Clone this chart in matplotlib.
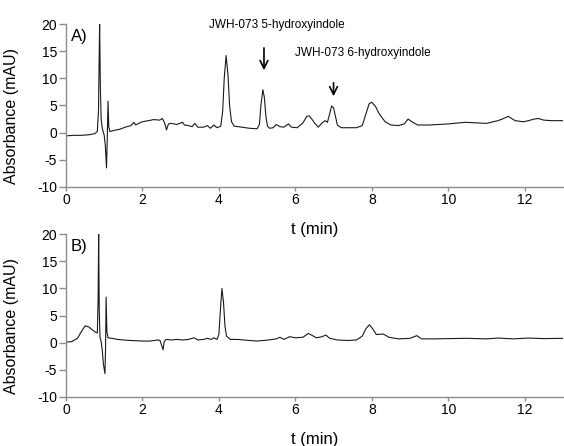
import matplotlib
matplotlib.use("Agg")
import matplotlib.pyplot as plt

plt.rcParams["font.family"] = ["Liberation Sans", "DejaVu Sans"]
plt.rcParams["axes.unicode_minus"] = False

# chromatogram A (t in min, absorbance in mAU)
time_a = [0.0, 0.2, 0.4, 0.6, 0.75, 0.82, 0.85, 0.87, 0.88, 0.9, 0.92, 0.95,
          0.98, 1.0, 1.03, 1.06, 1.08, 1.1, 1.12, 1.15, 1.25, 1.4, 1.55, 1.7,
          1.78, 1.82, 1.9, 2.0, 2.15, 2.3, 2.45, 2.52, 2.58, 2.63, 2.68, 2.75,
          2.9, 3.05, 3.1, 3.2, 3.3, 3.37, 3.45, 3.6, 3.7, 3.78, 3.87, 3.95,
          4.05, 4.1, 4.14, 4.19, 4.24, 4.28, 4.33, 4.4, 4.6, 4.8, 5.0, 5.06,
          5.1, 5.15, 5.19, 5.23, 5.27, 5.33, 5.42, 5.5, 5.6, 5.7, 5.82, 5.9,
          6.05, 6.2, 6.3, 6.36, 6.42, 6.5, 6.6, 6.7, 6.78, 6.84, 6.9, 6.95,
          7.0, 7.05, 7.1, 7.2, 7.4, 7.6, 7.75, 7.85, 7.93, 8.0, 8.1, 8.2,
          8.35, 8.5, 8.7, 8.85, 8.95, 9.05, 9.2, 9.5, 10.0, 10.45, 11.0, 11.3,
          11.45, 11.57, 11.75, 11.97, 12.1, 12.25, 12.36, 12.5, 12.7, 13.0]
abs_a = [-0.6, -0.5, -0.5, -0.4, -0.2, 0.2, 4.0, 15.0, 20.0, 8.0, 2.5, 0.8,
         0.0, -0.5, -2.5, -6.5, -1.0, 5.8, 1.0, 0.2, 0.4, 0.6, 1.0, 1.3,
         1.9, 1.4, 1.7, 2.0, 2.2, 2.4, 2.3, 2.6, 1.8, 0.5, 1.6, 1.7,
         1.5, 1.9, 1.4, 1.3, 1.1, 1.7, 1.0, 1.0, 1.3, 0.8, 1.4, 0.9,
         1.2, 4.0, 10.0, 14.2, 10.5, 5.0, 2.0, 1.2, 1.0, 0.8, 0.7, 1.5,
         5.0, 7.9, 6.5, 3.0, 1.2, 0.8, 0.9, 1.5, 1.1, 1.0, 1.6, 1.0,
         0.9, 1.8, 3.0, 3.1, 2.6, 1.8, 1.0, 1.8, 2.2, 1.9, 3.5, 4.9,
         4.6, 3.0, 1.4, 0.9, 0.9, 0.9, 1.3, 3.5, 5.3, 5.6, 4.8, 3.4,
         2.0, 1.4, 1.3, 1.6, 2.5, 2.0, 1.4, 1.4, 1.6, 1.9, 1.7, 2.2,
         2.6, 3.0, 2.2, 2.0, 2.2, 2.5, 2.6, 2.3, 2.2, 2.2]

# chromatogram B
time_b = [0.0, 0.15, 0.3, 0.4, 0.5, 0.6, 0.7, 0.78, 0.82, 0.84, 0.855, 0.87,
          0.89, 0.92, 0.95, 0.98, 1.02, 1.035, 1.05, 1.07, 1.1, 1.2, 1.35,
          1.5, 1.7, 2.0, 2.2, 2.4, 2.46, 2.54, 2.57, 2.62, 2.75, 2.9, 3.05,
          3.2, 3.35, 3.45, 3.6, 3.7, 3.8, 3.87, 3.95, 4.0, 4.04, 4.08, 4.12,
          4.16, 4.2, 4.3, 4.5, 4.8, 5.0, 5.3, 5.5, 5.6, 5.7, 5.85, 6.0, 6.2,
          6.34, 6.45, 6.55, 6.7, 6.8, 6.9, 7.1, 7.4, 7.6, 7.75, 7.85, 7.94,
          8.02, 8.12, 8.3, 8.45, 8.7, 9.0, 9.18, 9.3, 9.6, 10.0, 10.5, 11.0,
          11.3, 11.7, 12.1, 12.5, 13.0]
abs_b = [0.1, 0.2, 0.8, 2.0, 3.1, 2.9, 2.3, 1.9, 1.8, 8.0, 20.0, 6.0,
         1.0, 0.2, -1.5, -4.0, -5.7, -1.0, 8.4, 2.0, 0.9, 0.8, 0.6,
         0.5, 0.4, 0.3, 0.3, 0.5, 0.4, -1.3, 0.2, 0.6, 0.5, 0.6, 0.5,
         0.6, 0.9, 0.5, 0.6, 0.8, 0.6, 0.9, 0.6, 1.5, 6.0, 10.0, 7.5,
         3.0, 1.2, 0.6, 0.6, 0.4, 0.3, 0.5, 0.7, 1.0, 0.6, 1.1, 0.9, 1.0,
         1.7, 1.3, 0.9, 1.1, 1.4, 0.8, 0.5, 0.4, 0.5, 1.2, 2.6, 3.3,
         2.6, 1.5, 1.6, 1.0, 0.7, 0.8, 1.3, 0.7, 0.7, 0.75, 0.8, 0.7,
         0.85, 0.7, 0.85, 0.75, 0.8]

x_ticks = [0, 2, 4, 6, 8, 10, 12]
y_ticks = [-10, -5, 0, 5, 10, 15, 20]

fig = plt.figure(figsize=(5.64, 4.46), dpi=100)
ax_a = fig.add_axes([0.117, 0.581, 0.881, 0.365])
ax_b = fig.add_axes([0.117, 0.110, 0.881, 0.365])
# the upper x label sits right on top of panel B, keep it visible
ax_b.patch.set_visible(False)

for ax, t, a, tag in [(ax_a, time_a, abs_a, "A)"), (ax_b, time_b, abs_b, "B)")]:
    ax.plot(t, a, color="#1a1a1a", lw=0.8)
    ax.set_xlim(0, 13)
    ax.set_ylim(-10, 20)
    ax.set_xticks(x_ticks)
    ax.set_yticks(y_ticks)
    for side in ["top", "right"]:
        ax.spines[side].set_visible(False)
    for side in ["left", "bottom"]:
        ax.spines[side].set_color("#8c8c8c")
        ax.spines[side].set_linewidth(1.0)
    ax.tick_params(axis="y", colors="#8c8c8c", labelcolor="black",
                   length=5, width=1.0, pad=1.5, labelsize=10)
    ax.tick_params(axis="x", colors="#8c8c8c", labelcolor="black",
                   length=3, width=1.0, pad=1.5, labelsize=10)
    ax.set_xlabel("t (min)", fontsize=12, labelpad=11)
    ax.set_ylabel("Absorbance (mAU)", fontsize=11.5)
    ax.yaxis.set_label_coords(-0.095, 0.436)
    ax.text(0.13, 17.7, tag, fontsize=12, va="center", ha="left")

# arrows to the two metabolites
arrow = dict(arrowstyle="->", color="black", lw=1.2,
             mutation_scale=14, shrinkA=0, shrinkB=0)
ax_a.annotate("", xy=(5.18, 11.5), xytext=(5.18, 15.6), arrowprops=arrow)
ax_a.annotate("", xy=(7.0, 6.7), xytext=(7.0, 9.2), arrowprops=arrow)
ax_a.text(5.52, 19.9, "JWH-073 5-hydroxyindole", fontsize=8.5,
          ha="center", va="center")
ax_a.text(7.77, 14.6, "JWH-073 6-hydroxyindole", fontsize=8.5,
          ha="center", va="center")

fig.savefig("out.png", dpi=100)
